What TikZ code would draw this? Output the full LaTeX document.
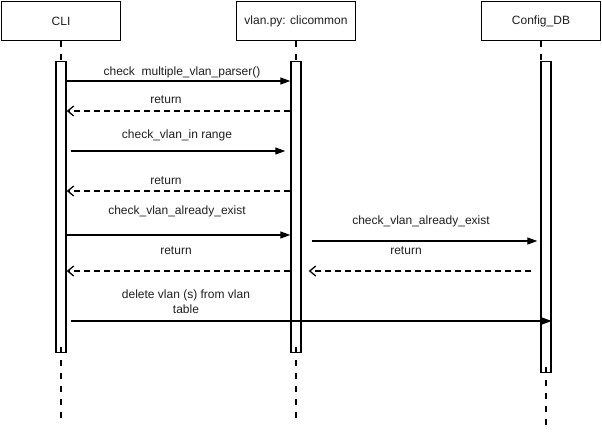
\documentclass[tikz,border=0pt]{standalone}
\usepackage{fontspec}
\setmainfont{Liberation Sans}
\usetikzlibrary{arrows.meta,positioning}
\definecolor{seqtext}{RGB}{30,30,30}

\begin{document}
\begin{tikzpicture}[x=1pt,y=-1pt,
    actor/.style={draw,line width=1.5pt,minimum width=119pt,minimum height=39pt,inner sep=0pt,
      font=\fontsize{12}{14}\selectfont,text=seqtext},
    actbar/.style={draw,line width=1.4pt,minimum width=10pt,inner sep=0pt,anchor=north},
    life/.style={line width=1.2pt,dash pattern=on 6pt off 7pt},
    msg/.style={line width=1.3pt,-{Triangle[length=10pt,width=7pt]}},
    ret/.style={line width=1.3pt,dash pattern=on 6pt off 4pt,-{Straight Barb[length=6pt,width=10pt]}},
    lbl/.style={font=\fontsize{12}{15}\selectfont,text=seqtext,inner sep=0pt,align=center}]
    \useasboundingbox (0,0) rectangle (602,433);
    % participants
    \node[actor] (cli) at (61,21) {CLI};
    \node[actor] (vlan) at (296,21) {vlan.py: clicommon};
    \node[actor] (db) at (541,21) {Config\_DB};
    % activation bars
    \node[actbar,minimum height=291pt] (clibar) at (61,61) {};
    \node[actbar,minimum height=291pt] (vlanbar) at (296,61) {};
    \node[actbar,minimum height=311pt] (dbbar) at (546,61) {};
    % lifelines
    \coordinate (cliend) at (61,421);
    \coordinate (vlanend) at (296,421);
    \coordinate (dbend) at (546,432);
    \draw[life] (cli.south) -- (cli.south |- clibar.north);
    \draw[life] (vlan.south) -- (vlan.south |- vlanbar.north);
    \draw[life] (db.south) -- (db.south |- dbbar.north);
    \draw[life] ([yshift=6pt]clibar.south) -- (cliend);
    \draw[life] ([yshift=6pt]vlanbar.south) -- (vlanend);
    \draw[life] ([yshift=6pt]dbbar.south) -- (dbend);
    % messages
    \draw[msg] (clibar.east |- 0,81) -- (vlanbar.west |- 0,81);
    \node[lbl] (l1) at (182,72) {check\ \ multiple\_vlan\_parser()};
    \draw[ret] (vlanbar.west |- 0,111) -- (clibar.east |- 0,111);
    \node[lbl] (l2) at (166,100) {return};
    \draw[msg] ([xshift=4pt]clibar.east |- 0,151) -- ([xshift=-5pt]vlanbar.west |- 0,151);
    \node[lbl] (l3) at (177,135) {check\_vlan\_in range};
    \draw[ret] (vlanbar.west |- 0,191) -- (clibar.east |- 0,191);
    \node[lbl] (l4) at (166,181) {return};
    \draw[msg] (clibar.east |- 0,235) -- (vlanbar.west |- 0,235);
    \node[lbl] (l5) at (177,211) {check\_vlan\_already\_exist};
    \draw[ret] (vlanbar.west |- 0,271) -- (clibar.east |- 0,271);
    \node[lbl] (l6) at (176,251) {return};
    \draw[msg] ([xshift=10pt]vlanbar.east |- 0,241) -- ([xshift=-3pt]dbbar.west |- 0,241);
    \node[lbl] (l7) at (421,221) {check\_vlan\_already\_exist};
    \draw[ret] ([xshift=-9pt]dbbar.west |- 0,271) -- ([xshift=7pt]vlanbar.east |- 0,271);
    \node[lbl] (l8) at (406,251) {return};
    \draw[msg] ([xshift=4pt]clibar.east |- 0,321) -- (dbbar.east |- 0,321);
    \node[lbl] (l9) at (186,302) {delete vlan (s) from vlan\\table};
\end{tikzpicture}
\end{document}
